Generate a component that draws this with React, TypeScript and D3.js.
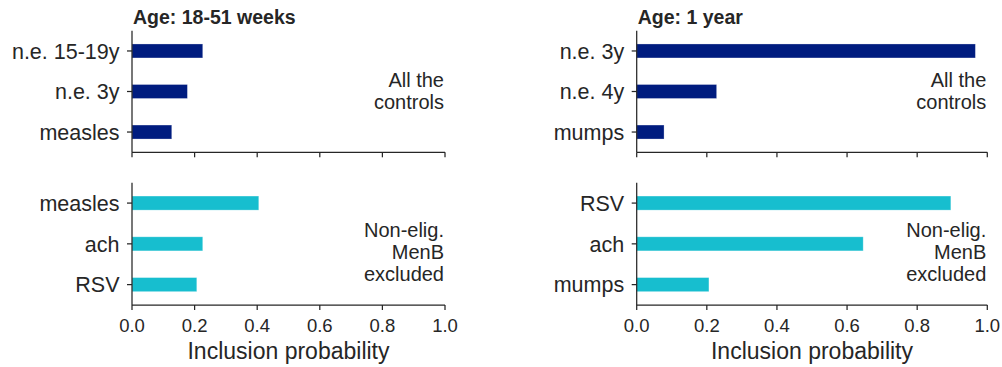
import React from "react";
import * as d3 from "d3";

const leftTopCats = ["n.e. 15-19y", "n.e. 3y", "measles"];
const leftTopVals = [0.226, 0.177, 0.127];
const leftBotCats = ["measles", "ach", "RSV"];
const leftBotVals = [0.405, 0.226, 0.207];
const rightTopCats = ["n.e. 3y", "n.e. 4y", "mumps"];
const rightTopVals = [0.966, 0.228, 0.078];
const rightBotCats = ["RSV", "ach", "mumps"];
const rightBotVals = [0.896, 0.646, 0.206];
const xTicks = [0, 0.2, 0.4, 0.6, 0.8, 1.0];
const titles = ["Age: 18-51 weeks", "Age: 1 year"];
const topNote = ["All the", "controls"];
const botNote = ["Non-elig.", "MenB", "excluded"];
const xLabel = "Inclusion probability";

const NAVY = "#001c7f";
const CYAN = "#17becf";
const INK = "#262626";
const FONT = "'Liberation Sans', Arial, Helvetica, sans-serif";

type PanelProps = {
  x0: number;
  x1: number;
  y0: number;
  y1: number;
  cats: string[];
  vals: number[];
  color: string;
  note: string[];
  noteBase: number;
  showTickLabels: boolean;
};

function Panel({ x0, x1, y0, y1, cats, vals, color, note, noteBase, showTickLabels }: PanelProps) {
  const x = d3.scaleLinear().domain([0, 1]).range([x0, x1]);
  const y = d3
    .scaleBand<string>()
    .domain(cats)
    .range([y0, y1])
    .paddingInner(0.655)
    .paddingOuter(0.3275);
  const bw = y.bandwidth();
  return (
    <g>
      {cats.map((c, i) => (
        <rect
          key={c + i}
          x={x(0)}
          y={y(c)!}
          width={x(vals[i]) - x(0)}
          height={bw}
          fill={color}
          stroke="rgba(255,255,255,0.35)"
          strokeWidth={0.8}
        />
      ))}
      <line x1={x0} x2={x0} y1={y0} y2={y1} stroke={INK} strokeWidth={1.25} />
      {cats.map((c) => {
        const cy = y(c)! + bw / 2;
        return (
          <g key={"yt" + c}>
            <line x1={x0 - 5} x2={x0} y1={cy} y2={cy} stroke={INK} strokeWidth={1.25} />
            <text
              x={x0 - 12.5}
              y={cy}
              dy="0.36em"
              textAnchor="end"
              fontSize={21.5}
              fill={INK}
              fontFamily={FONT}
            >
              {c}
            </text>
          </g>
        );
      })}
      <line x1={x0} x2={x1} y1={y1} y2={y1} stroke={INK} strokeWidth={1.25} />
      {xTicks.map((t) => (
        <g key={"xt" + t}>
          <line x1={x(t)} x2={x(t)} y1={y1} y2={y1 + 5} stroke={INK} strokeWidth={1.25} />
          {showTickLabels && (
            <text
              x={x(t)}
              y={y1 + 27}
              textAnchor="middle"
              fontSize={18.5}
              fill={INK}
              fontFamily={FONT}
            >
              {d3.format(".1f")(t)}
            </text>
          )}
        </g>
      ))}
      {note.map((line, i) => (
        <text
          key={"n" + i}
          x={x1 - 1}
          y={y0 + noteBase + i * 22}
          textAnchor="end"
          fontSize={20}
          fill={INK}
          fontFamily={FONT}
        >
          {line}
        </text>
      ))}
    </g>
  );
}

export default function App() {
  const cols = [
    { x0: 132, x1: 445 },
    { x0: 636.7, x1: 987.3 },
  ];
  const topY = [30.7, 152.3];
  const botY = [182.7, 305];
  const data = [
    { top: [leftTopCats, leftTopVals], bot: [leftBotCats, leftBotVals] },
    { top: [rightTopCats, rightTopVals], bot: [rightBotCats, rightBotVals] },
  ];
  return (
    <svg
      width={1002}
      height={367}
      style={{ position: "absolute", left: 0, top: 0, background: "#fff" }}
    >
      <rect x={0} y={0} width={1002} height={367} fill="#fff" />
      {cols.map((c, k) => (
        <g key={k}>
          <text
            x={c.x0 + 1}
            y={24}
            fontSize={19.5}
            fontWeight="bold"
            fill={INK}
            fontFamily={FONT}
          >
            {titles[k]}
          </text>
          <Panel
            x0={c.x0}
            x1={c.x1}
            y0={topY[0]}
            y1={topY[1]}
            cats={data[k].top[0] as string[]}
            vals={data[k].top[1] as number[]}
            color={NAVY}
            note={topNote}
            noteBase={56}
            showTickLabels={false}
          />
          <Panel
            x0={c.x0}
            x1={c.x1}
            y0={botY[0]}
            y1={botY[1]}
            cats={data[k].bot[0] as string[]}
            vals={data[k].bot[1] as number[]}
            color={CYAN}
            note={botNote}
            noteBase={54}
            showTickLabels={true}
          />
          <text
            x={(c.x0 + c.x1) / 2}
            y={358.5}
            textAnchor="middle"
            fontSize={23}
            fill={INK}
            fontFamily={FONT}
          >
            {xLabel}
          </text>
        </g>
      ))}
    </svg>
  );
}
